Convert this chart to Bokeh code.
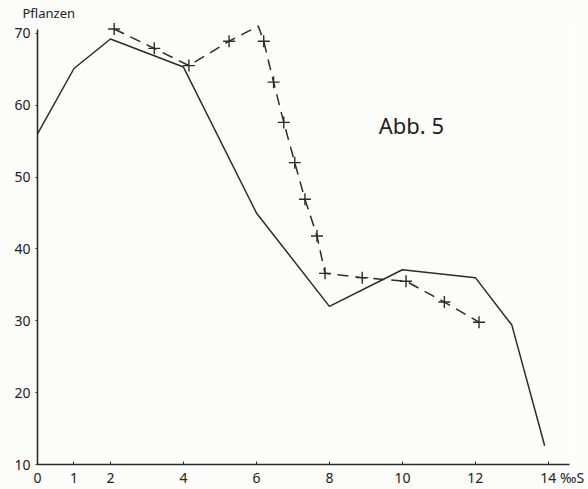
from bokeh.plotting import figure
from bokeh.models import Range1d, Label, FixedTicker
from bokeh.embed import file_html
from bokeh.resources import INLINE

# Solid curve
solid_x = [0, 1, 2, 4, 6, 8, 10, 12, 13, 13.9]
solid_y = [56, 65.1, 69.2, 65.3, 45, 32, 37.1, 36, 29.4, 12.6]

# Dashed curve: path vertices and marked points
dash_x = [2.1, 3.2, 4.15, 5.25, 6.05, 6.2, 6.47, 6.75, 7.05, 7.33, 7.66, 7.88, 8.9, 10.1, 11.15, 12.1]
dash_y = [70.6, 67.9, 65.5, 68.9, 71.0, 68.9, 63.2, 57.6, 52.0, 46.9, 41.8, 36.6, 36.0, 35.5, 32.6, 29.8]
mark_x = [2.1, 3.2, 4.15, 5.25, 6.2, 6.47, 6.75, 7.05, 7.33, 7.66, 7.88, 8.9, 10.1, 11.15, 12.1]
mark_y = [70.6, 67.9, 65.5, 68.9, 68.9, 63.2, 57.6, 52.0, 46.9, 41.8, 36.6, 36.0, 35.5, 32.6, 29.8]

x_ticks = [0, 1, 2, 4, 6, 8, 10, 12, 14]
x_last_label = "\u2007\u2007\u2007\u00a014 ‰S"
y_ticks = [10, 20, 30, 40, 50, 60, 70]

BG = "#fcfcf8"
INK = "#2b2b2b"
FONT = "Noto Sans"

p = figure(width=588, height=489, output_backend="svg", toolbar_location=None,
           x_range=Range1d(0, 14.58), y_range=Range1d(10, 71.5),
           min_border_left=37, min_border_right=19, min_border_top=22, min_border_bottom=25)
p.background_fill_color = BG
p.border_fill_color = BG
p.outline_line_color = None
p.grid.visible = False

p.title.text = "Pflanzen"
p.title.align = "left"
p.title.offset = -15
p.title.standoff = 1
p.title.text_font = FONT
p.title.text_font_size = "13px"
p.title.text_font_style = "normal"
p.title.text_color = "#222222"

p.xaxis.ticker = FixedTicker(ticks=x_ticks)
p.xaxis.major_label_overrides = {14: x_last_label}
p.yaxis.ticker = FixedTicker(ticks=y_ticks)
p.xaxis.bounds = (0, 14.58)
p.yaxis.bounds = (10, 70.5)
for ax in (p.xaxis, p.yaxis):
    ax.axis_line_color = INK
    ax.axis_line_width = 1.6
    ax.major_tick_line_color = INK
    ax.minor_tick_line_color = None
    ax.major_label_text_font = FONT
    ax.major_label_text_font_size = "14px"
    ax.major_label_text_color = "#222222"
p.xaxis.major_tick_in = 3
p.xaxis.major_tick_out = 0
p.xaxis.major_label_standoff = 3
p.yaxis.major_tick_in = 0
p.yaxis.major_tick_out = 2
p.yaxis.major_label_standoff = 5

p.line(solid_x, solid_y, line_color=INK, line_width=1.5)
p.line(dash_x, dash_y, line_color=INK, line_width=1.5, line_dash="11 7")
p.scatter(mark_x, mark_y, marker="cross", size=12, line_color=INK, line_width=1.4)

p.add_layout(Label(x=9.35, y=57.2, text="Abb. 5", text_font=FONT, text_font_size="22px",
                   text_color="#1e1e1e", text_baseline="alphabetic"))

open("out.html", "w").write(file_html(p, INLINE))
